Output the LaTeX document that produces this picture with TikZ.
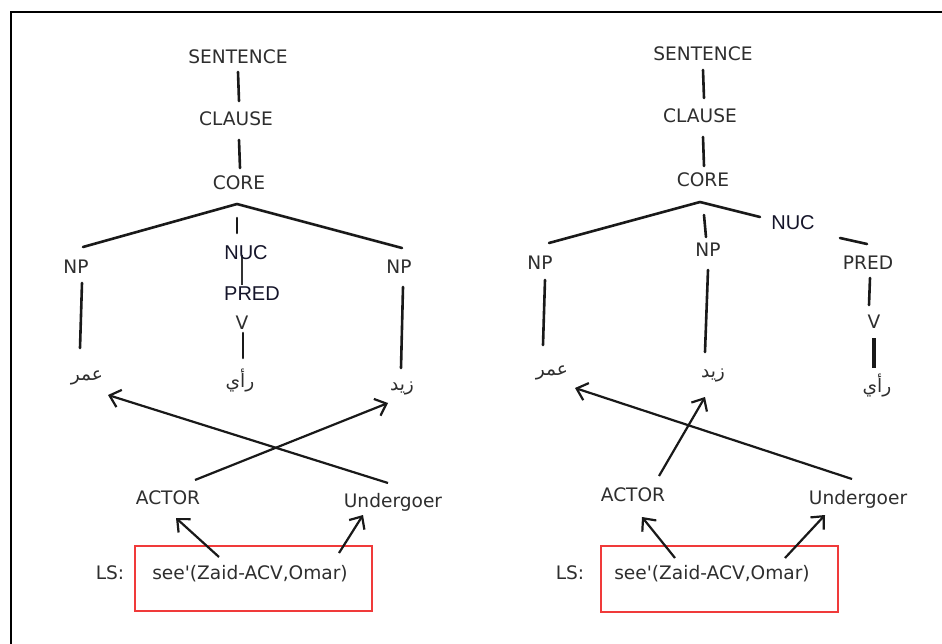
\documentclass[tikz,border=0pt]{standalone}
\usepackage{fontspec}
\usetikzlibrary{arrows.meta}
\newfontfamily\dvfont{DejaVu Sans}
\newfontfamily\libfont{Liberation Sans}
\newfontfamily\arabicfont[Script=Arabic]{DejaVu Sans}
\TeXXeTstate=1
\definecolor{txtgray}{HTML}{2E2E2E}
\definecolor{nuccol}{HTML}{15152A}
\definecolor{boxred}{HTML}{F03A3A}
\begin{document}
\begin{tikzpicture}[x=1pt,y=-1pt,
  lbl/.style={font=\dvfont\fontsize{18.6}{18.6}\selectfont, text=txtgray, inner sep=0pt, text height=13pt, text depth=0pt, anchor=center},
  nucl/.style={font=\libfont\fontsize{20}{20}\selectfont, text=nuccol, inner sep=0pt, text height=14.5pt, text depth=0pt, anchor=center},
  arb/.style={font=\arabicfont\fontsize{18.6}{18.6}\selectfont, text=txtgray, inner sep=0pt, anchor=center},
  tl/.style={line width=2.6pt, draw=black!90, line cap=round},
  thin/.style={line width=1.6pt, draw=black!80},
  arr/.style={line width=2.2pt, draw=black!90, -{Straight Barb[length=10pt,width=18pt,line width=2.2pt]}},
  lsbox/.style={draw=boxred, line width=1.6pt, inner sep=0pt}
]
\useasboundingbox (0,0) rectangle (942,644);
\fill[white] (0,0) rectangle (942,644);
\draw[line width=2pt] (11,645) -- (11,12) -- (943,12);

% ---------------- left tree ----------------
\node[lbl] (sentL) at (238,57) {SENTENCE};
\node[lbl] (clauseL) at (236,119) {CLAUSE};
\node[lbl] (coreL) at (239,183) {CORE};
\coordinate (apexL) at (237,204);
\node[lbl] (npL1) at (76,267) {NP};
\node[lbl] (npL2) at (399,267) {NP};
\node[lbl] (vL) at (242,323) {V};
\node[arb] (arL1) at (87,378) {\beginR عمر\endR};
\node[arb] (arL2) at (240,380) {\beginR رأي\endR};
\node[arb] (arL3) at (402,388) {\beginR زيد\endR};
\node[lbl] (actL) at (168,498) {ACTOR};
\node[lbl] (undL) at (393,501) {Undergoer};
\node[lbl] (lsL) at (110,573) {LS:};
\node[lsbox, minimum width=237pt, minimum height=65pt] (boxL) at (253.5,578.5) {};
\node[lbl] (seeL) at (250,573) {see'(Zaid-ACV,Omar)};
\node[nucl] (nucL) at (246,252) {};
\node[nucl] (predL) at (252,293) {};

\draw[tl] ([shift={(0,15)}]sentL.center) -- ([shift={(3,-18)}]clauseL.center);
\draw[tl] ([shift={(3,21)}]clauseL.center) -- ([shift={(1,-15)}]coreL.center);
\draw[tl] (apexL) -- ([shift={(7,-20)}]npL1.center);
\draw[tl] (apexL) -- ([shift={(3,-19)}]npL2.center);
\draw[tl] ([shift={(0,14)}]apexL) -- ([shift={(-9,-19)}]nucL.center);
\draw[thin] ([shift={(-4,3)}]nucL.center) -- ([shift={(-10,-8)}]predL.center);
\draw[tl] ([shift={(1,10)}]vL.center) -- ([shift={(3,-22)}]arL2.center);
\draw[tl] ([shift={(6,16)}]npL1.center) -- ([shift={(-7,-30)}]arL1.center);
\draw[tl] ([shift={(4,20)}]npL2.center) -- ([shift={(-1,-20)}]arL3.center);
\draw[arr] ([shift={(-5,-18)}]undL.center) -- ([shift={(21,17)}]arL1.center);
\draw[arr] ([shift={(27,-18)}]actL.center) -- ([shift={(-14,15)}]arL3.center);
\draw[arr] ([shift={(-31,-16)}]seeL.center) -- ([shift={(8,20)}]actL.center);
\draw[arr] ([shift={(89,-20)}]seeL.center) -- ([shift={(-30,14)}]undL.center);
\node[nucl] at (nucL) {NUC};
\node[nucl] at (predL) {PRED};

% ---------------- right tree ----------------
\node[lbl] (sentR) at (703,54) {SENTENCE};
\node[lbl] (clauseR) at (700,116) {CLAUSE};
\node[lbl] (coreR) at (703,180) {CORE};
\coordinate (apexR) at (700,202);
\node[lbl] (npR1) at (540,263) {NP};
\node[lbl] (npR2) at (708,250) {NP};
\node[nucl] (nucR) at (793,222) {NUC};
\node[lbl] (predR) at (868,263) {PRED};
\node[lbl] (vR) at (874,322) {V};
\node[arb] (arR1) at (552,373) {\beginR عمر\endR};
\node[arb] (arR2) at (713,375) {\beginR زيد\endR};
\node[arb] (arR3) at (877,385) {\beginR رأي\endR};
\node[lbl] (actR) at (633,495) {ACTOR};
\node[lbl] (undR) at (858,498) {Undergoer};
\node[lbl] (lsR) at (570,573) {LS:};
\node[lsbox, minimum width=237pt, minimum height=66pt] (boxR) at (719.5,579) {};
\node[lbl] (seeR) at (712,573) {see'(Zaid-ACV,Omar)};

\draw[tl] ([shift={(0,16)}]sentR.center) -- ([shift={(4,-18)}]clauseR.center);
\draw[tl] ([shift={(3,21)}]clauseR.center) -- ([shift={(1,-14)}]coreR.center);
\draw[tl] (apexR) -- ([shift={(9,-20)}]npR1.center);
\draw[tl] (apexR) -- ([shift={(-33,-5)}]nucR.center);
\draw[tl] ([shift={(4,13)}]apexR) -- ([shift={(-2,-13)}]npR2.center);
\draw[tl] ([shift={(47,16)}]nucR.center) -- ([shift={(-1,-19)}]predR.center);
\draw[tl] ([shift={(2,15)}]predR.center) -- ([shift={(-5,-17)}]vR.center);
\draw[tl, line width=3.6pt, line cap=butt] ([shift={(0,16)}]vR.center) -- ([shift={(-3,-17)}]arR3.center);
\draw[tl] ([shift={(5,17)}]npR1.center) -- ([shift={(-9,-28)}]arR1.center);
\draw[tl] ([shift={(0,20)}]npR2.center) -- ([shift={(-8,-23)}]arR2.center);
\draw[arr] ([shift={(-6,-19)}]undR.center) -- ([shift={(23,15)}]arR1.center);
\draw[arr] ([shift={(26,-19)}]actR.center) -- ([shift={(-8,22)}]arR2.center);
\draw[arr] ([shift={(-37,-15)}]seeR.center) -- ([shift={(9,22)}]actR.center);
\draw[arr] ([shift={(73,-15)}]seeR.center) -- ([shift={(-33,17)}]undR.center);
\end{tikzpicture}
\end{document}
